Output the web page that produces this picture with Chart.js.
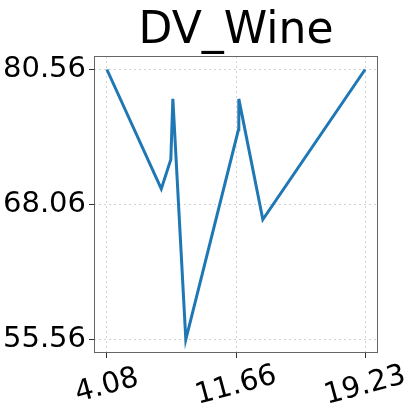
<!DOCTYPE html>
<html>
<head>
<meta charset="utf-8">
<script src="https://cdn.jsdelivr.net/npm/chart.js@4/dist/chart.umd.min.js"></script>
<style>
html,body{margin:0;padding:0;background:#fff;}
#wrap{width:415px;height:415px;}
</style>
</head>
<body>
<div id="wrap"><canvas id="c" width="415" height="415"></canvas></div>
<script>
const xValues = [4.08, 7.27, 7.83, 7.95, 8.71, 11.80, 11.82, 13.23, 19.23];
const yValues = [80.56, 69.51, 72.23, 77.84, 55.56, 75.0, 77.84, 66.67, 80.56];
const xTicks = [4.08, 11.66, 19.23];
const yTicks = [55.56, 68.06, 80.56];
const title = "DV_Wine";

const points = xValues.map((x, i) => ({x: x, y: yValues[i]}));
const FONT = "'DejaVu Sans', sans-serif";

const textPlugin = {
  id: 'texts',
  afterDraw(chart) {
    const ctx = chart.ctx;
    const xs = chart.scales.x;
    const a = chart.chartArea;
    ctx.save();
    ctx.fillStyle = '#000';
    // title centred over the plot area
    ctx.font = "44px " + FONT;
    ctx.textAlign = 'center';
    ctx.textBaseline = 'alphabetic';
    ctx.fillText(title, (a.left + a.right) / 2, 43);
    // rotated x tick labels
    ctx.font = "29px " + FONT;
    ctx.textBaseline = 'middle';
    xTicks.forEach(v => {
      const px = xs.getPixelForValue(v);
      ctx.save();
      ctx.translate(px, a.bottom + 33);
      ctx.rotate(-15 * Math.PI / 180);
      ctx.fillText(v.toFixed(2), 0, 0);
      ctx.restore();
    });
    ctx.restore();
  }
};

const frame = {
  id: 'frame',
  afterDatasetsDraw(chart) {
    const a = chart.chartArea, ctx = chart.ctx;
    ctx.save();
    ctx.strokeStyle = '#666';
    ctx.lineWidth = 1;
    ctx.strokeRect(a.left + 0.5, a.top + 0.5, a.right - a.left - 1, a.bottom - a.top - 1);
    ctx.restore();
  }
};

new Chart(document.getElementById('c'), {
  type: 'scatter',
  data: {
    datasets: [{
      data: points,
      showLine: true,
      borderColor: '#1f77b4',
      borderWidth: 3,
      pointRadius: 0,
      fill: false,
      tension: 0
    }]
  },
  options: {
    responsive: false,
    animation: false,
    devicePixelRatio: 1,
    layout: {padding: {left: 0, right: 37, top: 56, bottom: 0}},
    plugins: {
      legend: {display: false},
      tooltip: {enabled: false},
      title: {display: false}
    },
    scales: {
      x: {
        type: 'linear',
        min: 3.3225,
        max: 19.9875,
        afterBuildTicks: s => { s.ticks = xTicks.map(v => ({value: v})); },
        grid: {color: 'rgba(0,0,0,0.18)', drawTicks: true, tickLength: 5, tickColor: '#333'},
        border: {display: false, dash: [2, 3]},
        ticks: {display: false},
        afterFit: s => { s.height = 62; }
      },
      y: {
        type: 'linear',
        min: 54.31,
        max: 81.81,
        afterBuildTicks: s => { s.ticks = yTicks.map(v => ({value: v})); },
        grid: {color: 'rgba(0,0,0,0.18)', tickLength: 5, tickColor: '#333'},
        border: {display: false, dash: [2, 3]},
        ticks: {
          color: '#000',
          font: {family: FONT, size: 29},
          padding: 3,
          callback: v => v.toFixed(2)
        },
        afterFit: s => { s.width = 94; }
      }
    }
  },
  plugins: [textPlugin, frame]
});
</script>
</body>
</html>
